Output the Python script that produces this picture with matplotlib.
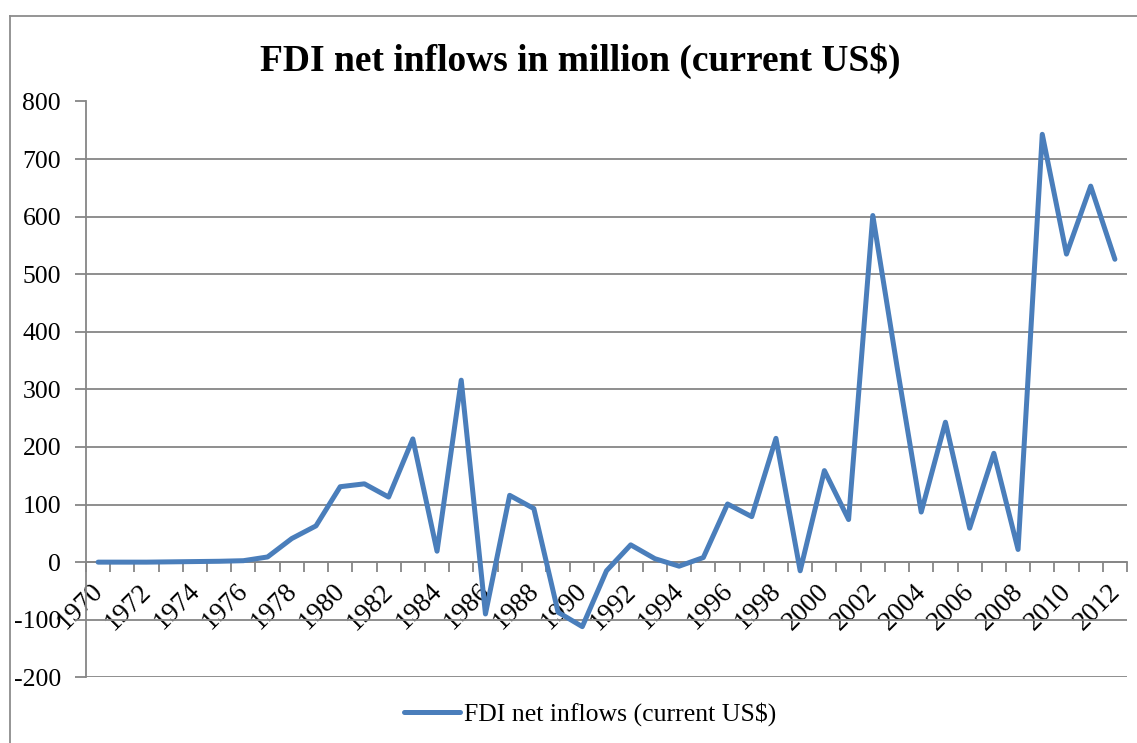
import matplotlib
matplotlib.use("Agg")
import matplotlib.pyplot as plt
from matplotlib.lines import Line2D
from matplotlib.transforms import ScaledTranslation

# FDI net inflows, million current US$
years = list(range(1970, 2013))
fdi_inflows = [
    0, 0, 0, 0.5, 1, 1.5, 2.5, 9, 41, 63,          # 1970-1979
    131, 136, 113, 214, 19, 316, -90, 116, 93, -87,  # 1980-1989
    -112, -15, 30, 6, -7, 8, 101, 79, 215, -15,      # 1990-1999
    159, 74, 602, 340, 87, 243, 59, 189, 22, 743,    # 2000-2009
    535, 653, 526,                                    # 2010-2012
]
year_labels = [str(y) if (y - 1970) % 2 == 0 else "" for y in years]
y_ticks = list(range(-200, 801, 100))

title = "FDI net inflows in million (current US$)"
series_name = "FDI net inflows (current US$)"

W, H, DPI = 1137, 743, 100
plt.rcParams["font.family"] = ["Liberation Serif", "DejaVu Serif"]
plt.rcParams["axes.unicode_minus"] = False

fig = plt.figure(figsize=(W / DPI, H / DPI), dpi=DPI)
fig.patch.set_facecolor("white")

# plot area in pixel terms
left_px, right_px, top_px, bottom_px = 86, 1127, 101.5, 677.3
ax = fig.add_axes([left_px / W, 1 - bottom_px / H,
                   (right_px - left_px) / W, (bottom_px - top_px) / H])

grey = "#868686"
line_blue = "#4A7EBB"

ax.set_xlim(years[0] - 0.5, years[-1] + 0.5)
ax.set_ylim(y_ticks[0], y_ticks[-1])

# horizontal gridlines
ax.set_yticks(y_ticks)
ax.yaxis.grid(True, color=grey, linewidth=1.3)
ax.set_axisbelow(True)

# spines: category axis crosses at zero
for side in ("top", "right"):
    ax.spines[side].set_visible(False)
ax.spines["left"].set_color(grey)
ax.spines["left"].set_linewidth(1.3)
ax.spines["bottom"].set_position(("data", 0))
ax.spines["bottom"].set_color(grey)
ax.spines["bottom"].set_linewidth(1.3)

# tick marks sit between categories, labels centred on categories
ax.set_xticks([y - 0.5 for y in years] + [years[-1] + 0.5])
ax.tick_params(axis="x", which="major", length=7, width=1.3, color=grey,
               labelbottom=False)
ax.set_xticks(years, minor=True)
ax.set_xticklabels(year_labels, minor=True, rotation=45, ha="right",
                   va="top", fontsize=19.5)
ax.tick_params(axis="x", which="minor", length=0, pad=12)
offset = ScaledTranslation(10 / DPI, 0, fig.dpi_scale_trans)
for lbl in ax.get_xticklabels(minor=True):
    lbl.set_transform(lbl.get_transform() + offset)

ax.tick_params(axis="y", length=8, width=1.3, color=grey, pad=10,
               labelsize=18.5)

ax.plot(years, fdi_inflows, color=line_blue, linewidth=3.6,
        solid_joinstyle="round", solid_capstyle="round", zorder=3,
        label=series_name)

fig.text(580 / W, 1 - 61 / H, title, ha="center", va="center",
         fontsize=27, fontweight="bold")

ax.legend(loc="center", bbox_to_anchor=(590 / W, 1 - 714 / H),
          bbox_transform=fig.transFigure, frameon=False, fontsize=18.5,
          handlelength=2.18, handletextpad=0.15, borderpad=0)

# outer chart border
fig.add_artist(Line2D([10 / W, 10 / W], [0, 1 - 16 / H], color="#8c8c8c",
                      linewidth=1.3, transform=fig.transFigure))
fig.add_artist(Line2D([10 / W, 1], [1 - 16 / H, 1 - 16 / H], color="#8c8c8c",
                      linewidth=1.3, transform=fig.transFigure))

fig.savefig("out.png", dpi=DPI)
